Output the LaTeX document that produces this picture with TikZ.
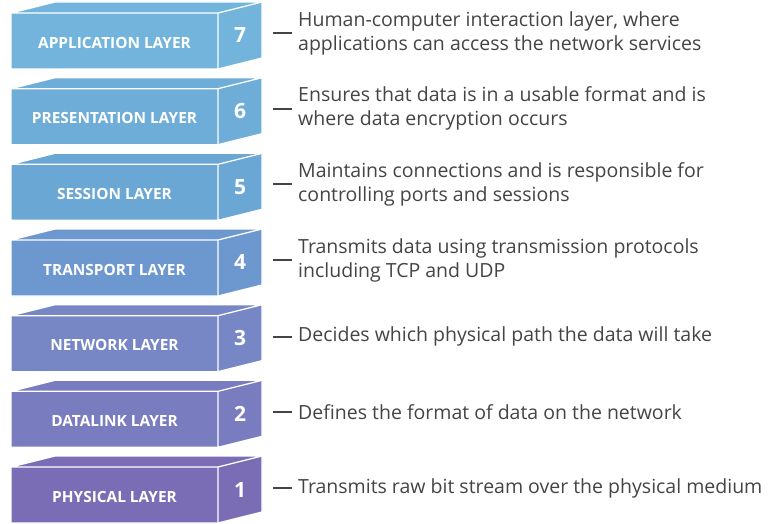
\documentclass[tikz,border=0pt]{standalone}
\usepackage{fontspec}
\setmainfont{Open Sans}
\usepackage{tikz}
\usetikzlibrary{positioning}
\definecolor{osiseven}{RGB}{114,180,220}
\definecolor{osisix}{RGB}{110,173,216}
\definecolor{osifive}{RGB}{106,167,213}
\definecolor{osifour}{RGB}{109,151,207}
\definecolor{osithree}{RGB}{119,135,197}
\definecolor{ositwo}{RGB}{122,124,192}
\definecolor{osione}{RGB}{123,109,181}
\definecolor{desctext}{RGB}{68,68,68}

\begin{document}
\begin{tikzpicture}[x=1pt,y=-1pt,
  face/.style={draw=white,line width=1.3pt,line join=round},
  layername/.style={text=white,font=\fontsize{15.4}{18}\selectfont\bfseries,inner sep=0pt},
  layernum/.style={text=white,font=\fontsize{21}{24}\selectfont\bfseries,inner sep=0pt},
  desc/.style={anchor=west,align=left,text=desctext,font=\fontsize{19.5}{24}\selectfont,inner sep=0pt},
  tick/.style={draw=desctext,line width=1.8pt}]
\useasboundingbox (0,0) rectangle (768,524);

% Layer 7
\filldraw[face,fill=osiseven] (11,13) rectangle (218,69)
  (11,13) -- (55,2) -- (262,2) -- (218,13) -- cycle
  (218,13) -- (262,2) -- (262,58) -- (218,69) -- cycle;
\node[layername] (app) at (114.5,42.5) {APPLICATION LAYER};
\node[layernum] (n7) at (240,35.5) {7};
\node[desc] (d7) at (298,33) {Human-computer interaction layer, where\\applications can access the network services};
\draw[tick] ([xshift=-25]d7.west) -- ([xshift=-6]d7.west);

% Layer 6
\filldraw[face,fill=osisix] (11,88.7) rectangle (218,144.7)
  (11,88.7) -- (55,77.7) -- (262,77.7) -- (218,88.7) -- cycle
  (218,88.7) -- (262,77.7) -- (262,133.7) -- (218,144.7) -- cycle;
\node[layername] (pres) at (114.5,118.2) {PRESENTATION LAYER};
\node[layernum] (n6) at (240,111.2) {6};
\node[desc] (d6) at (298,108.7) {Ensures that data is in a usable format and is\\where data encryption occurs};
\draw[tick] ([xshift=-25]d6.west) -- ([xshift=-6]d6.west);

% Layer 5
\filldraw[face,fill=osifive] (11,164.3) rectangle (218,220.3)
  (11,164.3) -- (55,153.3) -- (262,153.3) -- (218,164.3) -- cycle
  (218,164.3) -- (262,153.3) -- (262,209.3) -- (218,220.3) -- cycle;
\node[layername] (sess) at (114.5,193.8) {SESSION LAYER};
\node[layernum] (n5) at (240,186.8) {5};
\node[desc] (d5) at (298,184.3) {Maintains connections and is responsible for\\controlling ports and sessions};
\draw[tick] ([xshift=-25]d5.west) -- ([xshift=-6]d5.west);

% Layer 4
\filldraw[face,fill=osifour] (11,240) rectangle (218,296)
  (11,240) -- (55,229) -- (262,229) -- (218,240) -- cycle
  (218,240) -- (262,229) -- (262,285) -- (218,296) -- cycle;
\node[layername] (trans) at (114.5,269.5) {TRANSPORT LAYER};
\node[layernum] (n4) at (240,262.5) {4};
\node[desc] (d4) at (298,260) {Transmits data using transmission protocols\\including TCP and UDP};
\draw[tick] ([xshift=-25]d4.west) -- ([xshift=-6]d4.west);

% Layer 3
\filldraw[face,fill=osithree] (11,315.7) rectangle (218,371.7)
  (11,315.7) -- (55,304.7) -- (262,304.7) -- (218,315.7) -- cycle
  (218,315.7) -- (262,304.7) -- (262,360.7) -- (218,371.7) -- cycle;
\node[layername] (net) at (114.5,345.2) {NETWORK LAYER};
\node[layernum] (n3) at (240,338.2) {3};
\node[desc] (d3) at (298,336.7) {Decides which physical path the data will take};
\draw[tick] ([xshift=-25]d3.west) -- ([xshift=-6]d3.west);

% Layer 2
\filldraw[face,fill=ositwo] (11,391.3) rectangle (218,447.3)
  (11,391.3) -- (55,380.3) -- (262,380.3) -- (218,391.3) -- cycle
  (218,391.3) -- (262,380.3) -- (262,436.3) -- (218,447.3) -- cycle;
\node[layername] (link) at (114.5,420.8) {DATALINK LAYER};
\node[layernum] (n2) at (240,413.8) {2};
\node[desc] (d2) at (298,412.3) {Defines the format of data on the network};
\draw[tick] ([xshift=-25]d2.west) -- ([xshift=-6]d2.west);

% Layer 1
\filldraw[face,fill=osione] (11,467) rectangle (218,523)
  (11,467) -- (55,456) -- (262,456) -- (218,467) -- cycle
  (218,467) -- (262,456) -- (262,512) -- (218,523) -- cycle;
\node[layername] (phys) at (114.5,496.5) {PHYSICAL LAYER};
\node[layernum] (n1) at (240,489.5) {1};
\node[desc] (d1) at (298,488) {Transmits raw bit stream over the physical medium};
\draw[tick] ([xshift=-25]d1.west) -- ([xshift=-6]d1.west);
\end{tikzpicture}
\end{document}
